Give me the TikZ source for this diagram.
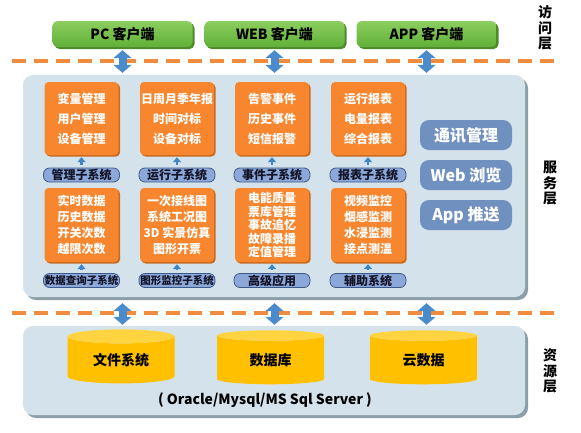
\documentclass[tikz,border=0pt]{standalone}
\usepackage{fontspec}
\setmainfont{Noto Sans CJK SC}
\usetikzlibrary{shapes.geometric,shadows,arrows.meta}

\begin{document}
\begin{tikzpicture}[x=1pt,y=-1pt,
    clientbox/.style={rounded corners=5pt, top color=r140g206b96, bottom color=r96g176b56,
        minimum width=140pt, minimum height=26pt, inner sep=0pt,
        font=\bfseries\fontsize{14}{14}\selectfont,
        drop shadow={shadow xshift=2pt, shadow yshift=-2pt, opacity=1, fill=r78g138b44}},
    panel/.style={fill=r212g227b235, rounded corners=10pt, inner sep=0pt,
        drop shadow={shadow xshift=3pt, shadow yshift=-3pt, opacity=1, fill=r140g158b168}},
    funcbox/.style={fill=r247g134b46, text=white, align=center, rounded corners=4pt,
        minimum width=74pt, inner sep=0pt,
        drop shadow={shadow xshift=1.5pt, shadow yshift=-1.5pt, opacity=1, fill=r200g106b32}},
    subbox/.style={fill=r139g168b216, draw=r60g90b140, line width=0.8pt, rounded corners=6pt,
        minimum width=76pt, minimum height=14pt, inner sep=0pt, text=r20g20b40,
        font=\bfseries\fontsize{12}{12}\selectfont},
    svcbox/.style={fill=r112g144b192, text=white, rounded corners=9pt,
        minimum width=92pt, minimum height=30pt, inner sep=0pt,
        font=\bfseries\fontsize{16}{16}\selectfont},
    dbcyl/.style={cylinder, shape border rotate=90, aspect=0.25, minimum width=107pt,
        minimum height=54pt, inner sep=0pt, cylinder uses custom fill,
        cylinder body fill=r255g192b0, cylinder end fill=r255g212b64,
        font=\bfseries\fontsize{14}{14}\selectfont},
    layerline/.style={draw=r240g140b64, line width=4pt, dash pattern=on 14pt off 8pt},
    bigarrow/.style={draw=r74g140b203, line width=8pt,
        {Triangle[width=18pt,length=8pt]}-{Triangle[width=18pt,length=8pt]}},
    smallarrow/.style={draw=r63g134b198, line width=2.5pt, -{Triangle[width=8pt,length=5pt]},
        shorten <=3pt, shorten >=2pt},
    layerlabel/.style={align=center, font=\bfseries\fontsize{14}{15.5}\selectfont}]
                \useasboundingbox (0,0) rectangle (581,432);%

                % Changing colors
                \definecolor{r140g206b96}{RGB}{140,206,96}%
                \definecolor{r96g176b56}{RGB}{96,176,56}%
                \definecolor{r78g138b44}{RGB}{78,138,44}%
                \definecolor{r212g227b235}{RGB}{212,227,235}%
                \definecolor{r140g158b168}{RGB}{140,158,168}%
                \definecolor{r247g134b46}{RGB}{247,134,46}%
                \definecolor{r200g106b32}{RGB}{200,106,32}%
                \definecolor{r139g168b216}{RGB}{139,168,216}%
                \definecolor{r60g90b140}{RGB}{60,90,140}%
                \definecolor{r20g20b40}{RGB}{20,20,40}%
                \definecolor{r112g144b192}{RGB}{112,144,192}%
                \definecolor{r255g192b0}{RGB}{255,192,0}%
                \definecolor{r255g212b64}{RGB}{255,212,64}%
                \definecolor{r240g140b64}{RGB}{240,140,64}%
                \definecolor{r74g140b203}{RGB}{74,140,203}%
                \definecolor{r63g134b198}{RGB}{63,134,198}%

                % Drawing panels
                \node [panel, minimum width=502pt, minimum height=222pt] (svc) at (274.000000,186.000000) {};%
                \node [panel, minimum width=502pt, minimum height=89pt] (res) at (274.000000,370.500000) {};%

                % Drawing client boxes
                \node [clientbox] (pc) at (122.500000,34.000000) {PC 客户端};%
                \node [clientbox] (web) at (274.500000,34.000000) {WEB 客户端};%
                \node [clientbox] (app) at (426.500000,34.000000) {APP 客户端};%

                % Drawing dashed layer lines
                \coordinate (lineAL) at (12.000000,61.000000);%
                \coordinate (lineAR) at (558.000000,61.000000);%
                \coordinate (lineBL) at (12.000000,313.000000);%
                \coordinate (lineBR) at (558.000000,313.000000);%
                \draw [layerline] (lineAL) -- (lineAR);%
                \draw [layerline] (lineBL) -- (lineBR);%

                % Drawing function boxes, first row
                {\bfseries\fontsize{12}{20}\selectfont
                \node [funcbox, minimum height=73pt] (fA) at (81.500000,118.500000) {变量管理\\用户管理\\设备管理};%
                \node [funcbox, minimum height=73pt] (fB) at (177.000000,118.500000) {日周月季年报\\时间对标\\设备对标};%
                \node [funcbox, minimum height=73pt] (fC) at (272.000000,118.500000) {告警事件\\历史事件\\短信报警};%
                \node [funcbox, minimum height=73pt] (fD) at (368.000000,118.500000) {运行报表\\电量报表\\综合报表};%
                }

                % Drawing function boxes, second row
                {\bfseries\fontsize{12}{16}\selectfont
                \node [funcbox, minimum height=74pt] (fE) at (81.500000,225.000000) {实时数据\\历史数据\\开关次数\\越限次数};%
                \node [funcbox, minimum height=74pt] (fF) at (177.000000,225.000000) {一次接线图\\系统工况图\\3D 实景仿真\\图形开票};%
                \node [funcbox, minimum height=74pt, font=\fontsize{12}{13.5}\selectfont] (fG) at (272.000000,225.000000) {电能质量\\票库管理\\事故追忆\\故障录播\\定值管理};%
                \node [funcbox, minimum height=74pt] (fH) at (368.000000,225.000000) {视频监控\\烟感监测\\水浸监测\\接点测温};%
                }

                % Drawing subsystems
                \node [subbox] (sA) at (81.500000,175.000000) {管理子系统};%
                \node [subbox] (sB) at (177.000000,175.000000) {运行子系统};%
                \node [subbox] (sC) at (272.000000,175.000000) {事件子系统};%
                \node [subbox] (sD) at (368.000000,175.000000) {报表子系统};%
                \node [subbox, font=\bfseries\fontsize{10.5}{10.5}\selectfont] (sE) at (81.500000,280.500000) {数据查询子系统};%
                \node [subbox, font=\bfseries\fontsize{10.5}{10.5}\selectfont] (sF) at (177.000000,280.500000) {图形监控子系统};%
                \node [subbox] (sG) at (272.000000,280.500000) {高级应用};%
                \node [subbox] (sH) at (368.000000,280.500000) {辅助系统};%

                % Drawing service boxes
                \node [svcbox] (comm) at (466.000000,135.000000) {通讯管理};%
                \node [svcbox] (browse) at (466.000000,175.000000) {Web 浏览};%
                \node [svcbox] (push) at (466.000000,215.000000) {App 推送};%

                % Drawing subsystem arrows
                \draw [smallarrow] (sA) -- (fA);%
                \draw [smallarrow] (sB) -- (fB);%
                \draw [smallarrow] (sC) -- (fC);%
                \draw [smallarrow] (sD) -- (fD);%
                \draw [smallarrow] (sE) -- (fE);%
                \draw [smallarrow] (sF) -- (fF);%
                \draw [smallarrow] (sG) -- (fG);%
                \draw [smallarrow] (sH) -- (fH);%

                % Drawing data stores
                \node [dbcyl] (files) at (121.000000,360.000000) {文件系统};%
                \node [dbcyl] (dbase) at (270.500000,360.000000) {数据库};%
                \node [dbcyl] (cloud) at (423.500000,360.000000) {云数据};%
                \node [font=\bfseries\fontsize{14}{14}\selectfont] (engines) at (265.000000,400.000000) {( Oracle/Mysql/MS Sql Server )};%

                % Drawing layer arrows
                \draw [bigarrow, shorten <=3pt, shorten >=2pt] (pc.south) -- (pc.south |- svc.north);%
                \draw [bigarrow, shorten <=3pt, shorten >=2pt] (web.south) -- (web.south |- svc.north);%
                \draw [bigarrow, shorten <=3pt, shorten >=2pt] (app.south) -- (app.south |- svc.north);%
                \draw [bigarrow, shorten <=6pt, shorten >=1pt] (pc.south |- svc.south) -- (pc.south |- res.north);%
                \draw [bigarrow, shorten <=6pt, shorten >=1pt] (web.south |- svc.south) -- (web.south |- res.north);%
                \draw [bigarrow, shorten <=6pt, shorten >=1pt] (app.south |- svc.south) -- (app.south |- res.north);%

                % Marking layers
                \node [layerlabel] (accesslbl) at (545.000000,28.000000) {访\\问\\层};%
                \node [layerlabel] (servicelbl) at (550.000000,183.000000) {服\\务\\层};%
                \node [layerlabel] (sourcelbl) at (550.000000,371.000000) {资\\源\\层};%
            \end{tikzpicture}
\end{document}
